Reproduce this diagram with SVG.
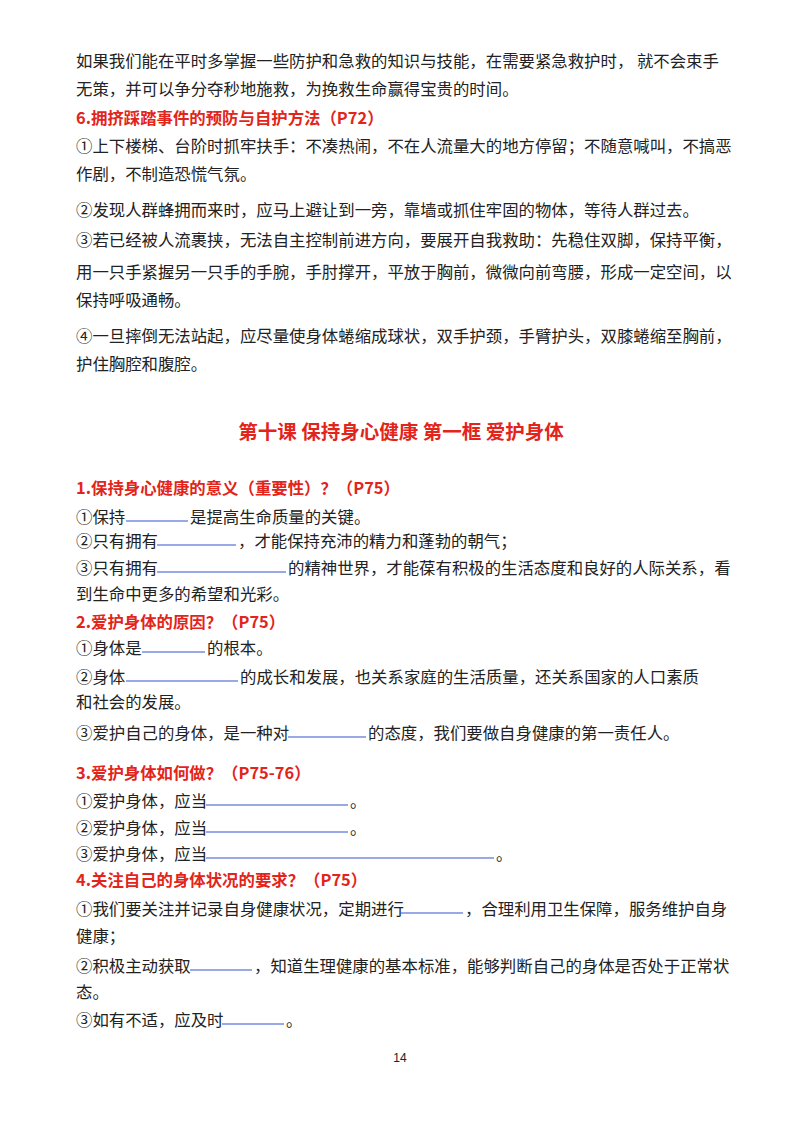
<svg xmlns="http://www.w3.org/2000/svg" width="800" height="1132" viewBox="0 0 800 1132">
<style>
text{font-family:"Noto Sans CJK SC","Noto Sans",sans-serif;font-size:16.4px;fill:#222}
.r{fill:#e3241b;font-weight:bold}
.u{stroke:#3355cc;stroke-width:1.2}
.n{font-family:"Liberation Sans",sans-serif;font-size:12px}
</style>
<rect width="800" height="1132" fill="#fff"/>
<text x="76" y="67">如果我们能在平时多掌握一些防护和急救的知识与技能，在需要紧急救护时，  就不会束手</text>
<text x="76" y="95">无策，并可以争分夺秒地施救，为挽救生命赢得宝贵的时间。</text>
<text class="r" x="76" y="124">6.拥挤踩踏事件的预防与自护方法（P72）</text>
<text x="76" y="152">①上下楼梯、台阶时抓牢扶手：不凑热闹，不在人流量大的地方停留；不随意喊叫，不搞恶</text>
<text x="76" y="180">作剧，不制造恐慌气氛。</text>
<text x="76" y="216">②发现人群蜂拥而来时，应马上避让到一旁，靠墙或抓住牢固的物体，等待人群过去。</text>
<text x="76" y="246">③若已经被人流裹挟，无法自主控制前进方向，要展开自我救助：先稳住双脚，保持平衡，</text>
<text x="76" y="278">用一只手紧握另一只手的手腕，手肘撑开，平放于胸前，微微向前弯腰，形成一定空间，以</text>
<text x="76" y="306">保持呼吸通畅。</text>
<text x="76" y="342">④一旦摔倒无法站起，应尽量使身体蜷缩成球状，双手护颈，手臂护头，双膝蜷缩至胸前，</text>
<text x="76" y="370">护住胸腔和腹腔。</text>
<text class="r" x="401" y="439" text-anchor="middle" style="font-size:19.5px">第十课 保持身心健康 第一框 爱护身体</text>
<text class="r" x="76" y="494">1.保持身心健康的意义（重要性）？（P75）</text>
<text x="76" y="523">①保持</text><line class="u" x1="126" y1="521" x2="188" y2="521"/><text x="190" y="523">是提高生命质量的关键。</text>
<text x="76" y="547">②只有拥有</text><line class="u" x1="157" y1="545" x2="236" y2="545"/><text x="238" y="547">，才能保持充沛的精力和蓬勃的朝气；</text>
<text x="76" y="574">③只有拥有</text><line class="u" x1="157" y1="572" x2="286" y2="572"/><text x="288" y="574">的精神世界，才能葆有积极的生活态度和良好的人际关系，看</text>
<text x="76" y="600">到生命中更多的希望和光彩。</text>
<text class="r" x="76" y="628">2.爱护身体的原因？（P75）</text>
<text x="76" y="654">①身体是</text><line class="u" x1="142" y1="652" x2="205" y2="652"/><text x="207" y="654">的根本。</text>
<text x="76" y="683">②身体</text><line class="u" x1="126" y1="681" x2="238" y2="681"/><text x="240" y="683">的成长和发展，也关系家庭的生活质量，还关系国家的人口素质</text>
<text x="76" y="708">和社会的发展。</text>
<text x="76" y="739">③爱护自己的身体，是一种对</text><line class="u" x1="288" y1="737" x2="366" y2="737"/><text x="368" y="739">的态度，我们要做自身健康的第一责任人。</text>
<text class="r" x="76" y="779">3.爱护身体如何做？（P75-76）</text>
<text x="76" y="807">①爱护身体，应当</text><line class="u" x1="206" y1="805" x2="348" y2="805"/><text x="350" y="807">。</text>
<text x="76" y="834">②爱护身体，应当</text><line class="u" x1="206" y1="832" x2="348" y2="832"/><text x="350" y="834">。</text>
<text x="76" y="860">③爱护身体，应当</text><line class="u" x1="206" y1="858" x2="494" y2="858"/><text x="496" y="860">。</text>
<text class="r" x="76" y="886">4.关注自己的身体状况的要求？（P75）</text>
<text x="76" y="915">①我们要关注并记录自身健康状况，定期进行</text><line class="u" x1="401" y1="913" x2="463" y2="913"/><text x="465" y="915">，合理利用卫生保障，服务维护自身</text>
<text x="76" y="942">健康；</text>
<text x="76" y="972">②积极主动获取</text><line class="u" x1="190" y1="970" x2="252" y2="970"/><text x="254" y="972">，知道生理健康的基本标准，能够判断自己的身体是否处于正常状</text>
<text x="76" y="998">态。</text>
<text x="76" y="1026">③如有不适，应及时</text><line class="u" x1="222" y1="1024" x2="284" y2="1024"/><text x="286" y="1026">。</text>
<text class="n" x="400" y="1062" text-anchor="middle">14</text>
</svg>
